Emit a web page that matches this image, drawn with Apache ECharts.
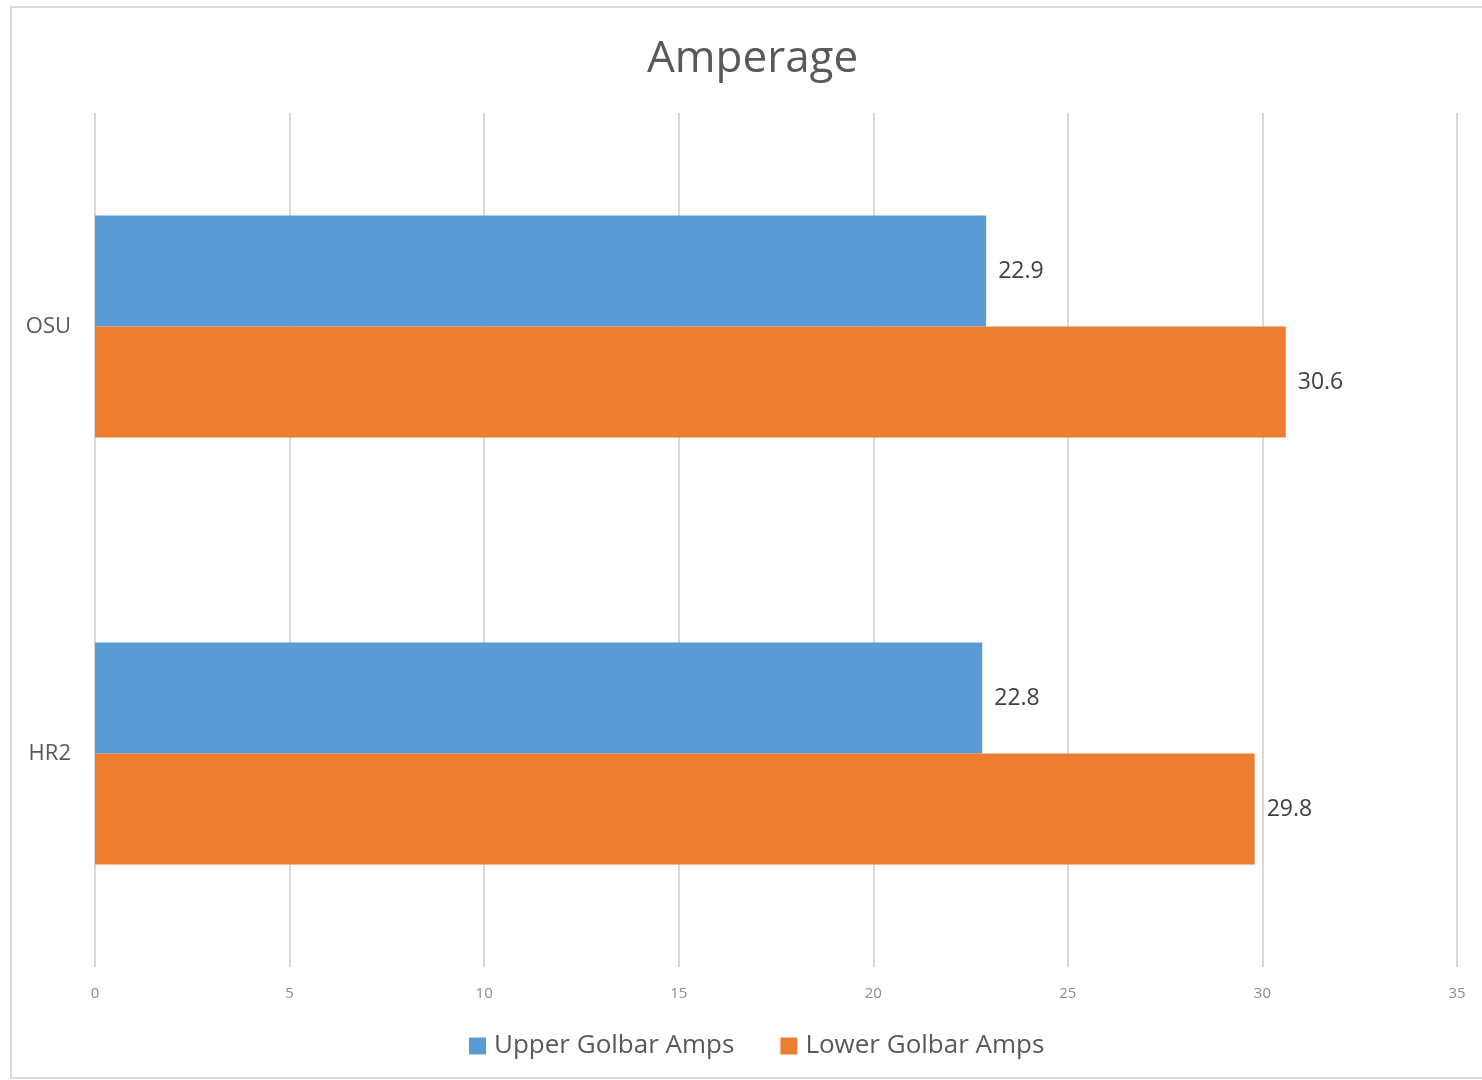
<!DOCTYPE html>
<html>
<head>
<meta charset="utf-8">
<script src="https://cdn.jsdelivr.net/npm/echarts@6/dist/echarts.min.js"></script>
<style>
  html, body { margin: 0; padding: 0; background: #fff; }
  #chart { width: 1482px; height: 1080px; }
</style>
</head>
<body>
<div id="chart"></div>
<script>
const categories = ["OSU", "HR2"];
const upperAmps = [22.9, 22.8];
const lowerAmps = [30.6, 29.8];
const seriesNames = ["Upper Golbar Amps", "Lower Golbar Amps"];

const chart = echarts.init(document.getElementById("chart"), null, { renderer: "canvas" });

const labelStyle = {
  show: true,
  position: "right",
  distance: 12,
  color: "#404040",
  fontSize: 23,
  fontFamily: "Open Sans",
};

const option = {
  animation: false,
  textStyle: { fontFamily: "Open Sans" },
  graphic: [
    {
      type: "rect",
      shape: { x: 11, y: 7, width: 1480, height: 1071 },
      style: { fill: "none", stroke: "#d9d9d9", lineWidth: 2 },
      silent: true,
    },
  ],
  title: {
    text: "Amperage",
    left: 642,
    top: 32,
    textStyle: { color: "#595959", fontSize: 44, fontWeight: "normal", fontFamily: "Open Sans" },
  },
  legend: {
    bottom: 16,
    left: 464,
    itemWidth: 17,
    itemHeight: 17,
    itemGap: 46,
    icon: "rect",
    textStyle: { color: "#595959", fontSize: 26, fontFamily: "Open Sans", padding: [0, 0, 0, 3] },
    data: seriesNames,
  },
  grid: { left: 95, right: 25, top: 113, bottom: 113, containLabel: false },
  xAxis: {
    type: "value",
    min: 0,
    max: 35,
    interval: 5,
    axisLine: { show: false },
    axisTick: { show: false },
    axisLabel: { color: "#8c8c8c", fontSize: 15, margin: 19 },
    splitLine: { show: true, lineStyle: { color: "#d9d9d9", width: 2 } },
  },
  yAxis: {
    type: "category",
    inverse: true,
    data: categories,
    axisLine: { show: false },
    axisTick: { show: false },
    axisLabel: { color: "#595959", fontSize: 22, margin: 24 },
  },
  series: [
    {
      name: seriesNames[0],
      type: "bar",
      data: upperAmps,
      barGap: "0%",
      barCategoryGap: "48%",
      itemStyle: { color: "#5B9BD5" },
      label: labelStyle,
    },
    {
      name: seriesNames[1],
      type: "bar",
      data: lowerAmps,
      barGap: "0%",
      barCategoryGap: "48%",
      itemStyle: { color: "#ED7D31" },
      label: labelStyle,
    },
  ],
};

chart.setOption(option);
</script>
</body>
</html>
